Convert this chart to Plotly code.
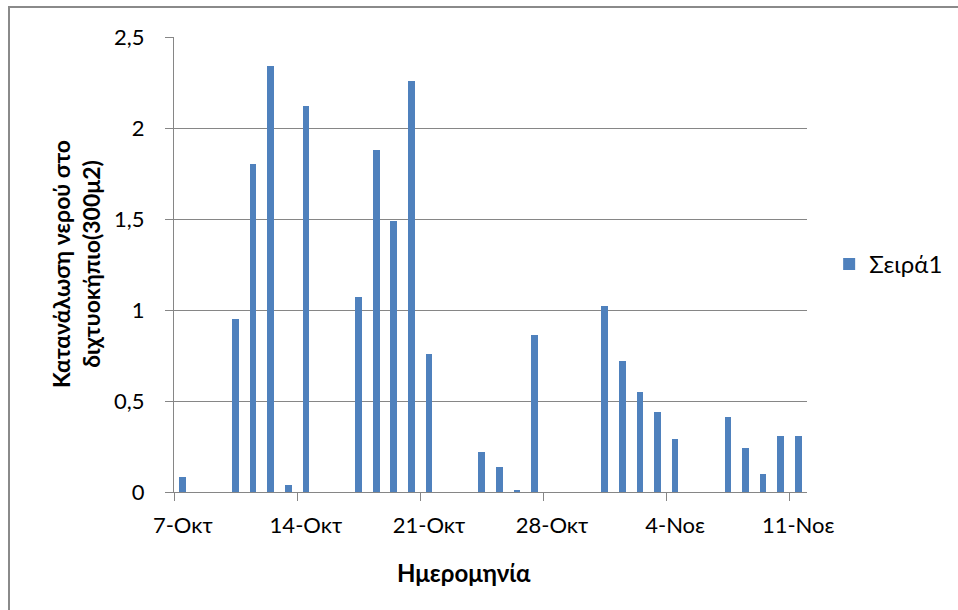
import plotly.graph_objects as go

dates = ["2011-10-07", "2011-10-10", "2011-10-11", "2011-10-12", "2011-10-13",
         "2011-10-14", "2011-10-17", "2011-10-18", "2011-10-19", "2011-10-20",
         "2011-10-21", "2011-10-24", "2011-10-25", "2011-10-26", "2011-10-27",
         "2011-10-31", "2011-11-01", "2011-11-02", "2011-11-03", "2011-11-04",
         "2011-11-07", "2011-11-08", "2011-11-09", "2011-11-10", "2011-11-11"]
values = [0.08, 0.95, 1.80, 2.34, 0.04,
          2.12, 1.07, 1.88, 1.49, 2.26,
          0.76, 0.22, 0.14, 0.01, 0.86,
          1.02, 0.72, 0.55, 0.44, 0.29,
          0.41, 0.24, 0.10, 0.31, 0.31]
tick_dates = ["2011-10-07", "2011-10-14", "2011-10-21", "2011-10-28", "2011-11-04", "2011-11-11"]
tick_labels = ["7-Οκτ", "14-Οκτ", "21-Οκτ", "28-Οκτ", "4-Νοε", "11-Νοε"]
series_name = "Σειρά1"
x_title = "Ημερομηνία"
y_title = "Κατανάλωση νερού στο<br>διχτυοκήπιο(300μ2)"

DAY = 86400000
FONT = "Lato"
GRID = "#868686"

L, R, T, B = 174, 151, 37, 118
PW, PH = 958 - L - R, 610 - T - B

fig = go.Figure()
fig.add_trace(go.Bar(
    x=dates, y=values, name=series_name,
    width=[0.38 * DAY] * len(dates),
    marker=dict(color="#4F81BD", line=dict(width=0)),
    showlegend=True,
))

fig.update_layout(
    width=958, height=610,
    margin=dict(l=L, r=R, t=T, b=B, autoexpand=False),
    paper_bgcolor="white", plot_bgcolor="white",
    separators=",.",
    font=dict(family=FONT, size=20, color="#000000"),
    showlegend=True,
    legend=dict(x=1.035, y=0.5, xanchor="left", yanchor="middle",
                font=dict(family=FONT, size=24), bgcolor="rgba(0,0,0,0)"),
    xaxis=dict(
        type="date",
        range=["2011-10-06 12:00", "2011-11-11 12:00"],
        tickmode="array", tickvals=tick_dates, ticktext=tick_labels,
        ticks="outside", ticklen=8, tickcolor="rgba(0,0,0,0)",
        ticklabelstandoff=6,
        showgrid=False, showline=True, linecolor=GRID, linewidth=1,
        minor=dict(ticks="outside", ticklen=8, tickcolor=GRID, tickwidth=1,
                   tick0="2011-10-06 12:00", dtick=7 * DAY, showgrid=False),
        tickfont=dict(family=FONT, size=22),
        fixedrange=True,
    ),
    yaxis=dict(
        range=[0, 2.5], dtick=0.5, tick0=0,
        ticks="outside", ticklen=8, tickcolor=GRID, tickwidth=1,
        ticklabelstandoff=16,
        showgrid=True, gridcolor=GRID, gridwidth=1,
        showline=True, linecolor=GRID, linewidth=1,
        zeroline=False,
        tickfont=dict(family=FONT, size=22),
        fixedrange=True,
    ),
    bargap=0,
)

fig.add_annotation(text="<b>" + x_title + "</b>", xref="paper", yref="paper",
                   x=(464 - L) / PW, y=(T + PH - 572) / PH, xanchor="center", yanchor="middle",
                   showarrow=False, font=dict(family=FONT, size=24))
fig.add_annotation(text="<b>" + y_title + "</b>", xref="paper", yref="paper",
                   x=(76 - L) / PW, y=(T + PH - 264) / PH, xanchor="center", yanchor="middle",
                   textangle=-90, showarrow=False, font=dict(family=FONT, size=23))

# outer chart border (top and left edges visible in the reference)
border = dict(color="#8a8a8a", width=2)
fig.add_shape(type="line", xref="paper", yref="paper",
              x0=(8 - L) / PW, x1=(958 - L) / PW,
              y0=(T + PH - 7) / PH, y1=(T + PH - 7) / PH, line=border, layer="above")
fig.add_shape(type="line", xref="paper", yref="paper",
              x0=(9 - L) / PW, x1=(9 - L) / PW,
              y0=(T + PH - 610) / PH, y1=(T + PH - 6) / PH, line=border, layer="above")

fig.write_html("out.html", config={"displayModeBar": False},
               post_script="document.body.style.margin='0';")
